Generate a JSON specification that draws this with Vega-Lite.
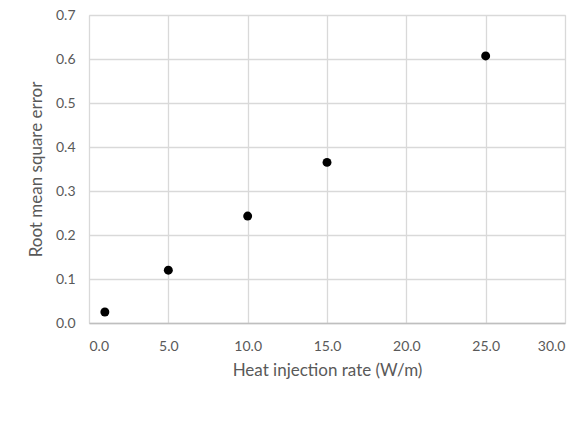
{
  "$schema": "https://vega.github.io/schema/vega-lite/v6.json",
  "width": 476,
  "height": 308,
  "autosize": {"type": "none"},
  "padding": {"left": 89, "top": 15, "right": 21, "bottom": 100},
  "background": "white",
  "config": {
    "view": {"stroke": "#d9d9d9", "strokeWidth": 1},
    "font": "Lato",
    "axis": {
      "labelFont": "Lato",
      "titleFont": "Lato",
      "labelColor": "#595959",
      "titleColor": "#595959",
      "labelFontSize": 14,
      "titleFontSize": 17,
      "titleFontWeight": "normal",
      "gridColor": "#d9d9d9",
      "gridWidth": 1.3,
      "domainColor": "#bfbfbf",
      "domainWidth": 1.3,
      "ticks": false,
      "tickSize": 0
    }
  },
  "data": {
    "values": [
      {"rate": 1, "rmse": 0.025},
      {"rate": 5, "rmse": 0.12},
      {"rate": 10, "rmse": 0.243},
      {"rate": 15, "rmse": 0.365},
      {"rate": 25, "rmse": 0.607}
    ]
  },
  "mark": {"type": "point", "filled": true, "color": "black", "opacity": 1, "size": 80},
  "encoding": {
    "x": {
      "field": "rate",
      "type": "quantitative",
      "scale": {"domain": [0, 30], "nice": false, "zero": true},
      "axis": {
        "title": "Heat injection rate (W/m)",
        "values": [0, 5, 10, 15, 20, 25, 30],
        "format": ".1f",
        "labelPadding": 16,
        "titlePadding": 9,
        "domain": true
      }
    },
    "y": {
      "field": "rmse",
      "type": "quantitative",
      "scale": {"domain": [0, 0.7], "nice": false},
      "axis": {
        "title": "Root mean square error",
        "values": [0, 0.1, 0.2, 0.3, 0.4, 0.5, 0.6, 0.7],
        "format": ".1f",
        "labelPadding": 14,
        "titlePadding": 10,
        "domain": false
      }
    }
  }
}
